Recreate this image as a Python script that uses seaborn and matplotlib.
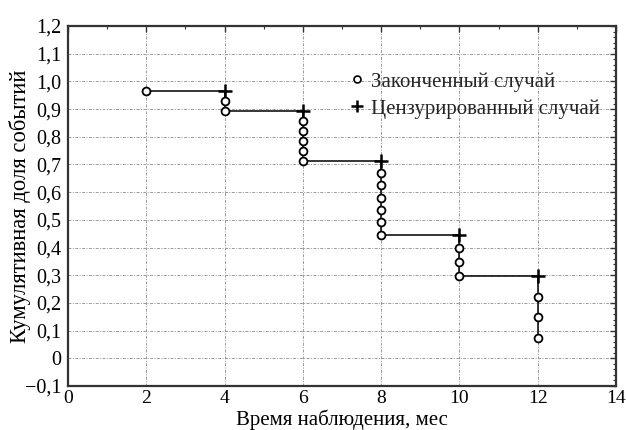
import numpy as np
import pandas as pd
import matplotlib
matplotlib.use("Agg")
import matplotlib.pyplot as plt
import seaborn as sns
from matplotlib.ticker import MultipleLocator, FuncFormatter
from matplotlib.lines import Line2D

sns.set_theme(style="white")
plt.rcParams['font.family'] = ['Liberation Serif', 'DejaVu Serif']

# Completed cases (events)
event_time = [2, 4, 4, 6, 6, 6, 6, 6, 8, 8, 8, 8, 8, 8, 10, 10, 10, 12, 12, 12]
event_value = [0.964, 0.929, 0.893, 0.857, 0.821, 0.786, 0.750, 0.714,
               0.670, 0.625, 0.580, 0.536, 0.491, 0.446,
               0.397, 0.347, 0.297, 0.223, 0.149, 0.074]
# Censored cases
censor_time = [4, 6, 8, 10, 12]
censor_value = [0.964, 0.893, 0.714, 0.446, 0.297]

legend_labels = ["Законченный случай", "Цензурированный случай"]
x_label = "Время наблюдения, мес"
y_label = "Кумулятивная доля событий"

# Build the step path from the points, ordered by time then descending value
ev = pd.DataFrame({"t": event_time, "v": event_value})
ce = pd.DataFrame({"t": censor_time, "v": censor_value})
path = pd.concat([ev, ce], ignore_index=True)
path = path.sort_values(["t", "v"], ascending=[True, False], kind="stable").reset_index(drop=True)

fig = plt.figure(figsize=(6.26, 4.30), dpi=100)
ax = fig.add_axes([0.1086, 0.1023, 0.8754, 0.8372])

sns.lineplot(data=path, x="t", y="v", sort=False, estimator=None,
             color="black", linewidth=1.1, ax=ax, zorder=2)
sns.scatterplot(x=censor_time, y=censor_value, marker="+", s=90, color="black",
                linewidth=1.8, ax=ax, zorder=3)
sns.scatterplot(x=event_time, y=event_value, marker="o", s=32, facecolor="white",
                edgecolor="black", linewidth=1.3, ax=ax, zorder=4)

ax.set_xlim(0, 14)
ax.set_ylim(-0.1, 1.2)
ax.xaxis.set_major_locator(MultipleLocator(2))
ax.xaxis.set_minor_locator(MultipleLocator(1))
ax.yaxis.set_major_locator(MultipleLocator(0.1))
ax.yaxis.set_minor_locator(MultipleLocator(0.02))

def yfmt(v, pos):
    if abs(v) < 1e-9:
        return "0"
    return f"{v:.1f}".replace(".", ",").replace("-", "\u2212")
ax.yaxis.set_major_formatter(FuncFormatter(yfmt))
ax.xaxis.set_major_formatter(FuncFormatter(lambda v, p: f"{int(round(v))}"))

ax.grid(True, which="major", color="#9a9a9a", linestyle=(0, (3, 1.5, 1, 1.5)), linewidth=0.7)
ax.set_axisbelow(True)
for s in ax.spines.values():
    s.set_color("#333333")
    s.set_linewidth(1.6)

ax.tick_params(which="both", direction="in", top=True, right=True, colors="#333333",
               labelcolor="black")
ax.tick_params(which="major", length=4, width=1.0, labelsize=14.5, pad=5)
ax.tick_params(which="minor", length=2, width=0.8)
ax.tick_params(axis="x", which="major", pad=3, labelsize=14)

ax.set_xlabel(x_label, fontsize=15, labelpad=2, color="black")
ax.set_ylabel(y_label, fontsize=16.3, color="black")
ax.yaxis.set_label_coords(-0.068, 0.5)

handles = [
    Line2D([], [], marker="o", linestyle="none", markersize=5, markerfacecolor="white",
           markeredgecolor="black", markeredgewidth=1.2),
    Line2D([], [], marker="+", linestyle="none", markersize=8, color="black",
           markeredgewidth=1.8),
]
ax.legend(handles, legend_labels, loc="upper left", bbox_to_anchor=(0.5, 0.895),
          frameon=False, fontsize=15, handlelength=0.6, handletextpad=0.4,
          labelspacing=0.35, borderaxespad=0)

fig.savefig("out.png", dpi=100)
